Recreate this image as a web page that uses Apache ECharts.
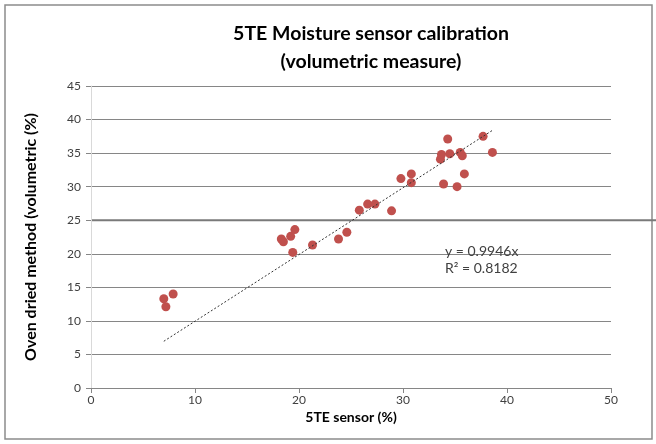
<!DOCTYPE html>
<html>
<head>
<meta charset="utf-8">
<script src="https://cdn.jsdelivr.net/npm/echarts@6/dist/echarts.min.js"></script>
<style>
  html, body { margin: 0; padding: 0; background: #fff; }
  #chart { width: 656px; height: 444px; }
</style>
</head>
<body>
<div id="chart"></div>
<script>
// 5TE sensor readings (%) and oven dried reference (volumetric %)
var sensorVals = [7.0, 7.2, 7.9, 18.3, 18.5, 19.2, 19.6, 19.4, 21.3, 23.8, 24.6, 25.8, 26.6, 27.3, 28.9,
                  29.8, 30.8, 30.8, 33.9, 35.2, 35.9, 33.6, 33.7, 34.5, 34.3, 35.5, 35.7, 37.7, 38.6];
var ovenVals   = [13.3, 12.1, 14.0, 22.2, 21.8, 22.6, 23.6, 20.2, 21.3, 22.2, 23.2, 26.5, 27.4, 27.4, 26.4,
                  31.2, 31.9, 30.6, 30.4, 30.0, 31.9, 34.1, 34.8, 34.9, 37.1, 35.1, 34.6, 37.5, 35.1];
var slope = 0.9946;
var r2 = 0.8182;
var xTicks = [0, 10, 20, 30, 40, 50];
var yTicks = [0, 5, 10, 15, 20, 25, 30, 35, 40, 45];
var darkLineAt = 25; // the darker horizontal line in the original

var pts = [];
for (var i = 0; i < sensorVals.length; i++) {
  pts.push([sensorVals[i], ovenVals[i]]);
}
var xMin = Math.min.apply(null, sensorVals);
var xMax = Math.max.apply(null, sensorVals);
var trend = [[xMin, slope * xMin], [xMax, slope * xMax]];

var font = 'Lato, "Open Sans", sans-serif';
var myChart = echarts.init(document.getElementById('chart'));
var option = {
  animation: false,
  title: {
    text: '5TE Moisture sensor calibration\n(volumetric measure)',
    left: 366,
    textAlign: 'center',
    top: 15,
    textStyle: { fontFamily: font, fontSize: 19.5, fontWeight: 'bold', color: '#000', lineHeight: 28 }
  },
  grid: { left: 91, right: 45, top: 86, bottom: 56 },
  xAxis: {
    type: 'value',
    min: xTicks[0], max: xTicks[xTicks.length - 1], interval: 10,
    name: '5TE sensor (%)',
    nameLocation: 'middle',
    nameGap: 22,
    nameTextStyle: { fontFamily: font, fontSize: 14, fontWeight: 'bold', color: '#000' },
    axisLine: { lineStyle: { color: '#868686' } },
    axisTick: { show: true, length: 5, lineStyle: { color: '#868686' } },
    axisLabel: { fontFamily: font, fontSize: 12, color: '#404040', margin: 6 },
    splitLine: { show: false }
  },
  yAxis: {
    type: 'value',
    min: yTicks[0], max: yTicks[yTicks.length - 1], interval: 5,
    name: 'Oven dried method (volumetric (%)',
    nameLocation: 'middle',
    nameGap: 52,
    nameTextStyle: { fontFamily: font, fontSize: 16, fontWeight: 'bold', color: '#000' },
    axisLine: { show: true, lineStyle: { color: '#d9d9d9' } },
    axisTick: { show: true, length: 5, lineStyle: { color: '#868686' } },
    axisLabel: { fontFamily: font, fontSize: 12, color: '#404040', margin: 10 },
    splitLine: { show: true, lineStyle: { color: '#868686', width: 1 } }
  },
  series: [
    {
      type: 'scatter',
      data: pts,
      symbolSize: 9,
      itemStyle: { color: '#C0504D', opacity: 1 },
      z: 3
    },
    {
      type: 'line',
      data: trend,
      symbol: 'none',
      lineStyle: { color: '#333', width: 1, type: [2, 2] },
      z: 4
    }
  ]
};
myChart.setOption(option);

// border of the chart area, equation text and the darker line running out to the page edge
var lineY = myChart.convertToPixel({ gridIndex: 0 }, [0, darkLineAt])[1];
var leftX = myChart.convertToPixel({ gridIndex: 0 }, [0, 0])[0];
myChart.setOption({
  graphic: [
    {
      type: 'rect',
      shape: { x: 5, y: 5, width: 647, height: 434 },
      style: { fill: 'none', stroke: '#8c8c8c', lineWidth: 1.5 },
      silent: true
    },
    {
      type: 'line',
      shape: { x1: leftX, y1: lineY, x2: 656, y2: lineY },
      style: { stroke: '#7a7a7a', lineWidth: 2 },
      silent: true
    },
    {
      type: 'text',
      left: 445, top: 243,
      style: {
        text: 'y = ' + slope + 'x\nR\u00b2 = ' + r2,
        fontFamily: font, fontSize: 14, fill: '#404040', lineHeight: 17
      }
    }
  ]
});
</script>
</body>
</html>
